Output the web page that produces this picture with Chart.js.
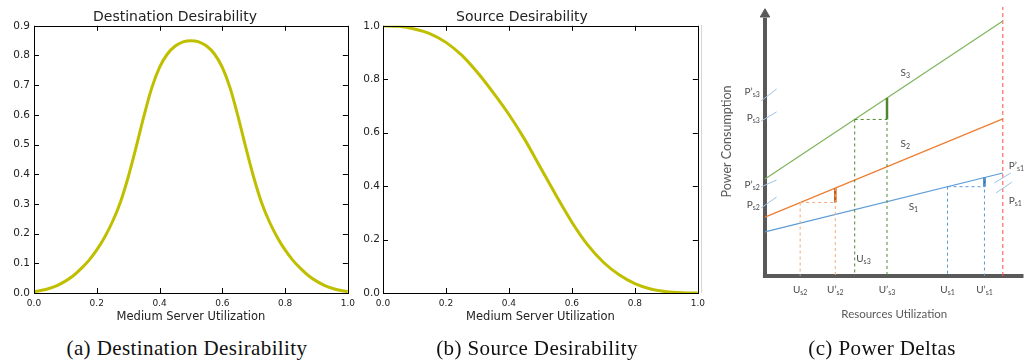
<!DOCTYPE html>
<html lang="en">
<head>
<meta charset="UTF-8">
<title>Desirability curves and power deltas</title>
<script src="https://cdn.jsdelivr.net/npm/chart.js"></script>
<style>
  body { margin: 0; width: 1030px; height: 362px; background: #fff; position: relative; overflow: hidden; }
  .panel { position: absolute; top: 0; height: 330px; }
  .caption { position: absolute; top: 336px; transform: translateX(-50%); white-space: nowrap; letter-spacing: 0.4px;
             font-family: "Liberation Serif", "Times New Roman", serif; font-size: 21px; line-height: 24px; color: #111; }
  .sep { position: absolute; left: 701px; top: 25px; width: 1px; height: 268px; background: #d6d6d6; }
</style>
</head>
<body>

<div class="panel" style="left:0; width:360px;"><canvas id="destChart"></canvas></div>
<div class="panel" style="left:345px; width:365px;"><canvas id="srcChart"></canvas></div>
<div class="sep"></div>
<div class="panel" style="left:700px; width:330px;"><canvas id="deltaChart"></canvas></div>

<div class="caption" style="left:187px;">(a) Destination Desirability</div>
<div class="caption" style="left:537px;">(b) Source Desirability</div>
<div class="caption" style="left:882px;">(c) Power Deltas</div>

<script>
// (a) destination desirability
const destUtil  = [0, 0.025, 0.05, 0.075, 0.1, 0.125, 0.15, 0.175, 0.2, 0.225, 0.25, 0.275, 0.3, 0.325, 0.35, 0.375, 0.4, 0.425, 0.45, 0.475,
                   0.5, 0.525, 0.55, 0.575, 0.6, 0.625, 0.65, 0.675, 0.7, 0.725, 0.75, 0.775, 0.8, 0.825, 0.85, 0.875, 0.9, 0.925, 0.95, 0.975, 1];
const destValue = [0.005, 0.009, 0.016, 0.026, 0.04, 0.058, 0.082, 0.11, 0.145, 0.188, 0.24, 0.305, 0.39, 0.49, 0.595, 0.69, 0.76, 0.805, 0.832, 0.846,
                   0.85, 0.846, 0.832, 0.805, 0.76, 0.69, 0.595, 0.49, 0.39, 0.305, 0.24, 0.188, 0.145, 0.11, 0.082, 0.058, 0.04, 0.026, 0.016, 0.009, 0.005];

// (b) source desirability
const srcUtil  = [0, 0.05, 0.1, 0.15, 0.2, 0.25, 0.3, 0.35, 0.4, 0.45, 0.5, 0.55, 0.6, 0.65, 0.7, 0.75, 0.8, 0.85, 0.9, 0.95, 1];
const srcValue = [1.0, 0.998, 0.988, 0.970, 0.938, 0.89, 0.825, 0.75, 0.668, 0.575, 0.47, 0.365, 0.265, 0.18, 0.115, 0.068, 0.035, 0.015, 0.005, 0.001, 0];

const utilTicks = [0, 0.2, 0.4, 0.6, 0.8, 1.0];
const destTicks = [0, 0.1, 0.2, 0.3, 0.4, 0.5, 0.6, 0.7, 0.8, 0.9];
const srcTicks  = [0, 0.2, 0.4, 0.6, 0.8, 1.0];

// (c) power deltas, schematic units (utilization 0-100, power 0-100)
const limitUtil = 92;
const lineUtil  = [0, 92];
const s1Power   = [16.4, 38.3];
const s2Power   = [21.9, 58.4];
const s3Power   = [36.1, 94.8];
// order: s1, s2, s3
const uS        = [70.6, 13.6, 34.7];
const uSPrime   = [84.9, 27.2, 47.2];
const pAtU      = [33.2, 27.3, 58.2];
const pAtUPrime = [36.6, 32.7, 66.2];

Chart.defaults.font.family = "'DejaVu Sans', sans-serif";
Chart.defaults.color = '#222';
Chart.defaults.animation = false;
Chart.defaults.plugins.legend.display = false;
Chart.defaults.plugins.tooltip.enabled = false;

// matplotlib-like box with ticks pointing inwards
const boxTicks = {
  id: 'boxTicks',
  afterDraw(chart) {
    const { ctx, chartArea: a, scales: { x, y } } = chart;
    ctx.save();
    ctx.strokeStyle = '#000';
    ctx.lineWidth = 1;
    ctx.beginPath();
    x.ticks.forEach(t => {
      const px = Math.round(x.getPixelForValue(t.value)) + 0.5;
      ctx.moveTo(px, a.bottom); ctx.lineTo(px, a.bottom - 5);
      ctx.moveTo(px, a.top); ctx.lineTo(px, a.top + 5);
    });
    y.ticks.forEach(t => {
      const py = Math.round(y.getPixelForValue(t.value)) + 0.5;
      ctx.moveTo(a.left, py); ctx.lineTo(a.left + 5, py);
      ctx.moveTo(a.right, py); ctx.lineTo(a.right - 5, py);
    });
    ctx.stroke();
    ctx.strokeRect(Math.round(a.left) + 0.5, Math.round(a.top) + 0.5, Math.round(a.width), Math.round(a.height));
    ctx.restore();
  }
};

function curveChart(id, title, util, value, yTicks, yWidth, yPad, rightPad) {
  return new Chart(document.getElementById(id), {
    type: 'line',
    data: {
      datasets: [{
        data: util.map((u, i) => ({ x: u, y: value[i] })),
        borderColor: '#bfbf00',
        borderWidth: 3,
        pointRadius: 0,
        fill: false,
        cubicInterpolationMode: 'monotone'
      }]
    },
    options: {
      responsive: true,
      maintainAspectRatio: false,
      layout: { padding: { top: 0, right: rightPad, bottom: 0, left: 0 } },
      plugins: {
        title: { display: true, text: title, color: '#222', font: { size: 14, weight: 'normal' }, padding: { top: 9, bottom: 0 } }
      },
      scales: {
        x: {
          type: 'linear', min: 0, max: 1,
          afterBuildTicks: s => { s.ticks = utilTicks.map(v => ({ value: v })); },
          afterFit: s => { s.height = 37; },
          grid: { display: false, drawTicks: false },
          border: { display: false },
          ticks: { font: { size: 9 }, padding: 5, maxRotation: 0, autoSkip: false, callback: v => v.toFixed(1) },
          title: { display: true, text: 'Medium Server Utilization', color: '#222', font: { size: 11.5 }, padding: { top: 0, bottom: 6 } }
        },
        y: {
          type: 'linear', min: 0, max: yTicks[yTicks.length - 1],
          afterBuildTicks: s => { s.ticks = yTicks.map(v => ({ value: v })); },
          afterFit: s => { s.width = yWidth; },
          grid: { display: false, drawTicks: false },
          border: { display: false },
          ticks: { font: { size: 10.5 }, padding: yPad, autoSkip: false, callback: v => v.toFixed(1) }
        }
      }
    },
    plugins: [boxTicks]
  });
}

curveChart('destChart', 'Destination Desirability', destUtil, destValue, destTicks, 34, 4, 10);
curveChart('srcChart', 'Source Desirability', srcUtil, srcValue, srcTicks, 38, 3, 11);

// ---- (c) schematic ----
const seg = (pts, color, width, dash) => ({
  data: pts.map(p => ({ x: p[0], y: p[1] })),
  borderColor: color, borderWidth: width, borderDash: dash || [],
  pointRadius: 0, fill: false, tension: 0, clip: false, borderCapStyle: 'butt'
});

const dropColors  = ['#5b9bd5', '#f4a97a', '#4e8a2e'];
const deltaColors = ['#2e75b6', '#c55a11', '#548235'];
const lineColors  = ['#5b9bd5', '#ed7d31', '#7fb35a'];
const slashColor  = '#9dc3e6';

const deltaSets = [];
[0, 1, 2].forEach(i => {
  deltaSets.push(seg([[uS[i], pAtU[i]], [uS[i], 0]], dropColors[i], 1, [3, 3]));
  deltaSets.push(seg([[uSPrime[i], pAtUPrime[i]], [uSPrime[i], 0]], dropColors[i], 1, [3, 3]));
  deltaSets.push(seg([[uS[i], pAtU[i]], [uSPrime[i], pAtU[i]]], dropColors[i], 1, [3, 3]));
  deltaSets.push(seg([[uSPrime[i], pAtU[i]], [uSPrime[i], pAtUPrime[i]]], deltaColors[i], 2.5));
});

const slashMarks = [
  [[-1.5, 65.1], [4.5, 69.5]], [[-1.5, 57.6], [4.5, 61.0]],
  [[-1.5, 33.1], [4.5, 35.7]], [[-1.5, 25.3], [4.5, 29.4]],
  [[88.7, 34.6], [95.1, 38.3]], [[89.4, 30.9], [95.5, 34.9]]
];

const diagramText = [
  { m: 'S', s: '3', x: 54.3, y: 75.5, align: 'center' },
  { m: 'S', s: '2', x: 54.3, y: 49.1, align: 'center' },
  { m: 'S', s: '1', x: 57.4, y: 25.7, align: 'center' },
  { m: 'P’', s: 's3', x: -2, y: 68.4, align: 'right' },
  { m: 'P', s: 's3', x: -2, y: 58.7, align: 'right' },
  { m: 'P’', s: 's2', x: -2, y: 33.8, align: 'right' },
  { m: 'P', s: 's2', x: -2, y: 26.4, align: 'right' },
  { m: 'P’', s: 's1', x: 94.3, y: 40.9, align: 'left' },
  { m: 'P', s: 's1', x: 94.3, y: 27.9, align: 'left' },
  { m: 'U', s: 's3', x: 35.3, y: 6.3, align: 'left' },
  { m: 'U', s: 's2', x: uS[1], y: -5.2, align: 'center' },
  { m: 'U’', s: 's2', x: uSPrime[1], y: -5.2, align: 'center' },
  { m: 'U’', s: 's3', x: uSPrime[2], y: -5.2, align: 'center' },
  { m: 'U', s: 's1', x: uS[0], y: -5.2, align: 'center' },
  { m: 'U’', s: 's1', x: uSPrime[0], y: -5.2, align: 'center' }
];

const diagramLabels = {
  id: 'diagramLabels',
  afterDatasetsDraw(chart) {
    const { ctx, scales: { x, y } } = chart;
    ctx.save();
    ctx.fillStyle = '#4a4a4a';
    ctx.textBaseline = 'middle';
    ctx.textAlign = 'left';
    diagramText.forEach(t => {
      ctx.font = '10px Lato, sans-serif';
      const wm = ctx.measureText(t.m).width;
      ctx.font = '7px Lato, sans-serif';
      const ws = ctx.measureText(t.s).width;
      let px = x.getPixelForValue(t.x);
      const py = y.getPixelForValue(t.y);
      if (t.align === 'center') px -= (wm + ws) / 2;
      if (t.align === 'right') px -= wm + ws;
      ctx.font = '10px Lato, sans-serif';
      ctx.fillText(t.m, px, py);
      ctx.font = '7px Lato, sans-serif';
      ctx.fillText(t.s, px + wm, py + 3);
    });
    ctx.restore();
  }
};

new Chart(document.getElementById('deltaChart'), {
  type: 'line',
  data: {
    datasets: [
      ...deltaSets,
      seg([[lineUtil[0], s3Power[0]], [lineUtil[1], s3Power[1]]], lineColors[2], 1.2),
      seg([[lineUtil[0], s2Power[0]], [lineUtil[1], s2Power[1]]], lineColors[1], 1.2),
      seg([[lineUtil[0], s1Power[0]], [lineUtil[1], s1Power[1]]], lineColors[0], 1.2),
      ...slashMarks.map(p => seg(p, slashColor, 1)),
      seg([[limitUtil, 0], [limitUtil, 100]], '#ff4d4d', 1, [4, 3]),
      seg([[0, 0], [0, 96]], '#595959', 4),
      seg([[-0.8, 0], [100, 0]], '#595959', 4),
      { data: [{ x: 0, y: 97.3 }], showLine: false, pointStyle: 'triangle', pointRadius: 5.5,
        pointBackgroundColor: '#595959', pointBorderColor: '#595959', clip: false }
    ]
  },
  options: {
    responsive: true,
    maintainAspectRatio: false,
    layout: { padding: { top: 7, right: 0, bottom: 0, left: 0 } },
    scales: {
      x: {
        type: 'linear', min: 0, max: 100,
        afterFit: s => { s.height = 54; },
        grid: { display: false, drawTicks: false },
        border: { display: false },
        ticks: { display: false },
        title: { display: true, text: 'Resources Utilization', color: '#595959',
                 font: { family: 'Lato, sans-serif', size: 11.5 }, padding: { top: 0, bottom: 9 } }
      },
      y: {
        type: 'linear', min: 0, max: 100,
        afterFit: s => { s.width = 65; },
        grid: { display: false, drawTicks: false },
        border: { display: false },
        ticks: { display: false },
        title: { display: true, text: 'Power Consumption', color: '#595959',
                 font: { family: 'Lato, sans-serif', size: 12.5 }, padding: { top: 19, bottom: 0 } }
      }
    }
  },
  plugins: [diagramLabels]
});
</script>
</body>
</html>
